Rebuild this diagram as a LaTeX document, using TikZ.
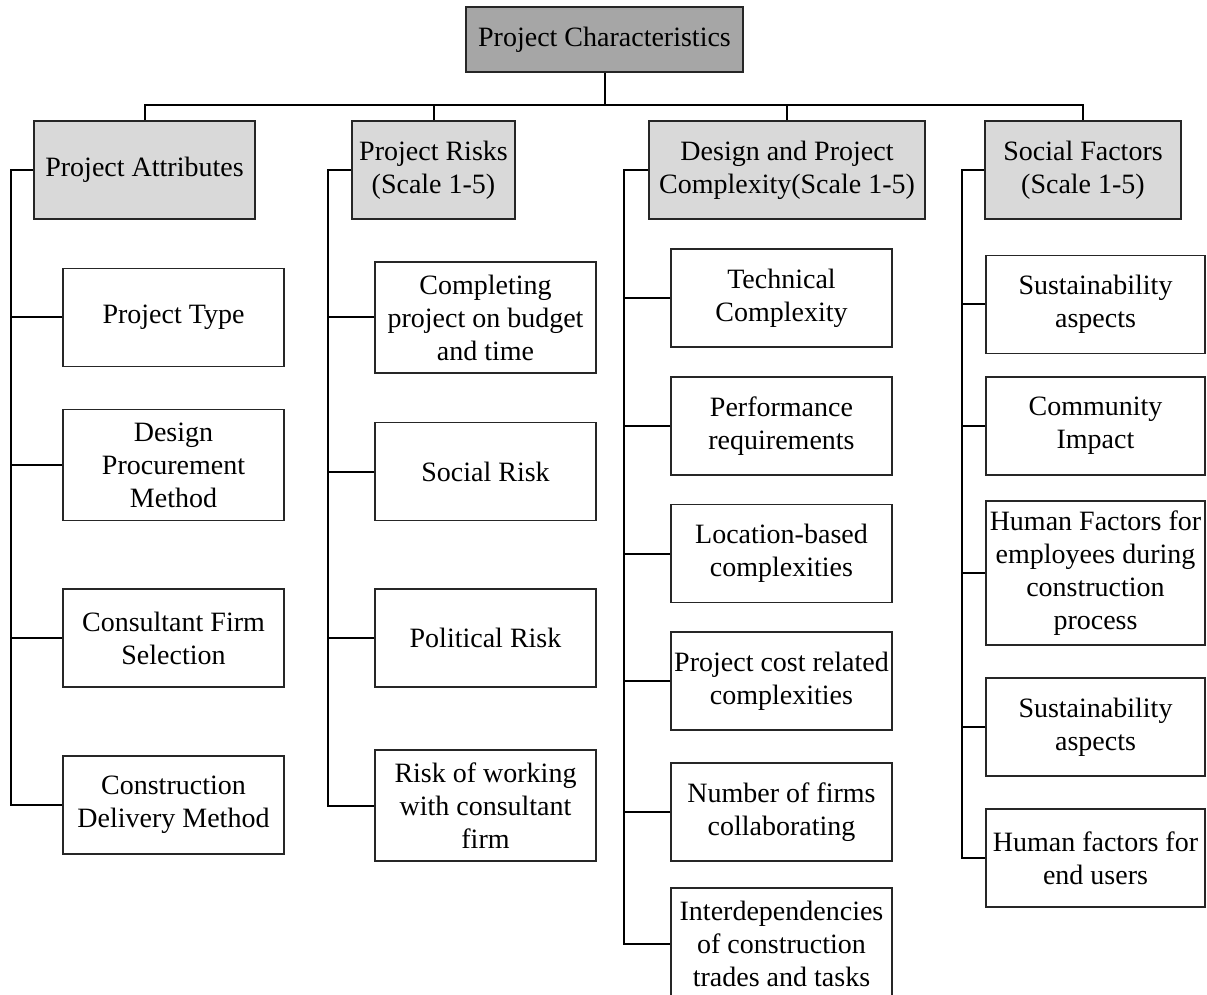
\documentclass[tikz,border=0pt]{standalone}
\usepackage{fontspec}
\setmainfont{Liberation Serif}
\definecolor{rootgray}{HTML}{A6A6A6}
\definecolor{catgray}{HTML}{D9D9D9}
\newcommand{\boxfont}{\fontsize{14}{16.5}\selectfont}
\begin{document}
\begin{tikzpicture}[x=0.5pt, y=-0.5pt,
  base/.style={draw=black!85, line width=0.75pt, align=center, inner sep=0pt, font=\boxfont},
  rootbox/.style={base, fill=rootgray, minimum width=138.5pt, minimum height=32.5pt},
  catbox/.style={base, fill=catgray, minimum height=49pt},
  leafbox/.style={base, fill=white, minimum width=110.5pt, minimum height=49pt},
  tall/.style={minimum height=55.5pt},
  link/.style={line width=1pt, black}]
\useasboundingbox (0,0) rectangle (1207,995);

% root and category boxes
\node[rootbox] (root) at (604.5,39.5) {Project Characteristics};
\node[catbox, minimum width=110.5pt] (A) at (144.5,170) {Project Attributes};
\node[catbox, minimum width=81.5pt]  (B) at (433.5,170) {Project Risks\\(Scale 1-5)};
\node[catbox, minimum width=138pt]   (C) at (787,170) {Design and Project\\Complexity(Scale 1-5)};
\node[catbox, minimum width=98pt]    (D) at (1083,170) {Social Factors\\(Scale 1-5)};

% project attributes
\node[leafbox] (a1) at (173.5,317.5) {Project Type};
\node[leafbox, tall] (a2) at (173.5,465) {Design\\Procurement\\Method};
\node[leafbox] (a3) at (173.5,638) {Consultant Firm\\Selection};
\node[leafbox] (a4) at (173.5,805) {Construction\\Delivery Method};

% project risks
\node[leafbox, tall] (b1) at (485.5,317.5) {Completing\\project on budget\\and time};
\node[leafbox] (b2) at (485.5,471.5) {Social Risk};
\node[leafbox] (b3) at (485.5,638) {Political Risk};
\node[leafbox, tall] (b4) at (485.5,805.5) {Risk of working\\with consultant\\firm};

% design and project complexity
\node[leafbox] (c1) at (781.5,298) {Technical\\Complexity};
\node[leafbox] (c2) at (781.5,426) {Performance\\requirements};
\node[leafbox] (c3) at (781.5,553.5) {Location-based\\complexities};
\node[leafbox] (c4) at (781.5,681) {Project cost related\\complexities};
\node[leafbox] (c5) at (781.5,812) {Number of firms\\collaborating};
\node[leafbox, tall] (c6) at (781.5,943.5) {Interdependencies\\of construction\\trades and tasks};

% social factors
\node[leafbox, minimum width=109.5pt] (d1) at (1095.5,304.5) {Sustainability\\aspects};
\node[leafbox, minimum width=109.5pt] (d2) at (1095.5,426) {Community\\Impact};
\node[leafbox, minimum width=109.5pt, minimum height=72pt] (d3) at (1095.5,573) {Human Factors for\\employees during\\construction\\process};
\node[leafbox, minimum width=109.5pt] (d4) at (1095.5,727) {Sustainability\\aspects};
\node[leafbox, minimum width=109.5pt] (d5) at (1095.5,858) {Human factors for\\end users};

% bus from the root to the categories
\coordinate (bus) at (604.5,105);
\draw[link] (root.south) -- (bus);
\draw[link] (A.north) |- (D.north |- bus) -- (D.north);
\draw[link] (B.north) -- (B.north |- bus);
\draw[link] (C.north) -- (C.north |- bus);

% spines down the left of each column
\coordinate (sA) at (11,170);
\coordinate (sB) at (328,170);
\coordinate (sC) at (624,170);
\coordinate (sD) at (962,170);
\draw[link] (A.west) -- (sA) |- (a4.west);
\draw[link] (B.west) -- (sB) |- (b4.west);
\draw[link] (C.west) -- (sC) |- (c6.west);
\draw[link] (D.west) -- (sD) |- (d5.west);
\foreach \n in {a1,a2,a3} \draw[link] (\n.west) -- (\n.west -| sA);
\foreach \n in {b1,b2,b3} \draw[link] (\n.west) -- (\n.west -| sB);
\foreach \n in {c1,c2,c3,c4,c5} \draw[link] (\n.west) -- (\n.west -| sC);
\foreach \n in {d1,d2,d3,d4} \draw[link] (\n.west) -- (\n.west -| sD);
\end{tikzpicture}
\end{document}
